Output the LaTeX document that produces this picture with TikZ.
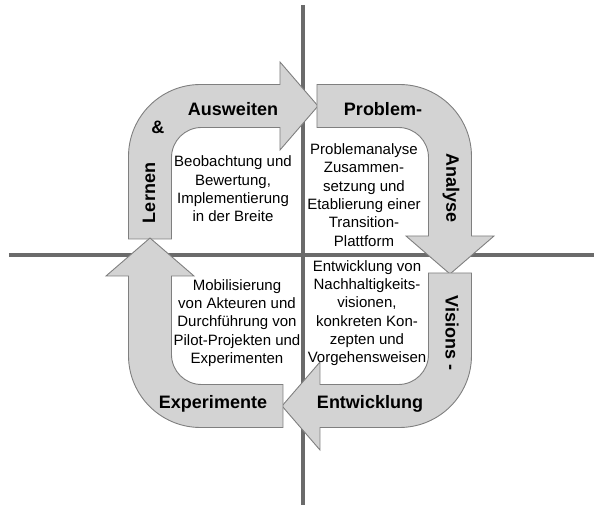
\documentclass[tikz,border=0pt]{standalone}
\usepackage{fontspec}
\setmainfont{Liberation Sans}
\definecolor{bandgray}{HTML}{D3D3D3}
\definecolor{bandedge}{HTML}{7F7F7F}
\definecolor{axisgray}{HTML}{6B6B6B}
\tikzset{
  band/.style={
    fill=bandgray,
    draw=bandedge,
    line width=0.9pt,
    line join=miter
  },
  axis/.style={
    draw=axisgray,
    line width=4pt
  },
  phase/.style={font=\fontsize{18}{21}\selectfont\bfseries, inner sep=0pt},
  task/.style={align=center, font=\fontsize{15}{18.3}\selectfont, inner sep=0pt},
}

\begin{document}
\begin{tikzpicture}[x=1pt, y=1pt]
        \useasboundingbox (-300,-249) rectangle (295,256);

        % axes
        \coordinate (top) at (3.5,251);
        \coordinate (bottom) at (3.5,-252);
        \coordinate (left) at (-291,1);
        \coordinate (right) at (294,1);
        \draw [axis] (top) -- (bottom);
        \draw [axis] (left) -- (right);

        % bent arrows, one per quadrant
        \foreach \ang in {0,-90,-180,-270} {
          \draw [band, rotate=\ang] (-171.5,17) -- (-171.5,99.5)
            arc[start angle=180, end angle=90, radius=72] -- (-20,171.5) -- (-20,194)
            -- (18,150) -- (-20,106) -- (-20,128.5) -- (-98.5,128.5)
            arc[start angle=90, end angle=180, radius=30] -- (-128.5,17) -- cycle;
        }

        % phase labels
        \node [phase] (ausweiten) at (-67,147) {Ausweiten};
        \node [phase] (amp) at (-142,129) {\&};
        \node [phase, rotate=90] (lernen) at (-151,63) {Lernen};
        \node [phase] (problem) at (83,147) {Problem-};
        \node [phase, rotate=-90] (analyse) at (151,68) {Analyse};
        \node [phase, rotate=-90] (visions) at (152,-77) {Visions -};
        \node [phase] (entwicklung) at (70,-148) {Entwicklung};
        \node [phase] (experimente) at (-87,-148) {Experimente};

        % quadrant texts
        \node [task] (lernentext) at (-67,67) {Beobachtung und\\Bewertung,\\Implementierung\\in der Breite};
        \node [task] (analysetext) at (64,61) {Problemanalyse\\Zusammen-\\setzung und\\Etablierung einer\\Transition-\\Plattform};
        \node [task] (experimentetext) at (-63,-67) {Mobilisierung\\von Akteuren und\\Durchführung von\\Pilot-Projekten und\\Experimenten};
        \node [task] (visionentext) at (67,-57) {Entwicklung von\\Nachhaltigkeits-\\visionen,\\konkreten Kon-\\zepten und\\Vorgehensweisen};
\end{tikzpicture}
\end{document}
